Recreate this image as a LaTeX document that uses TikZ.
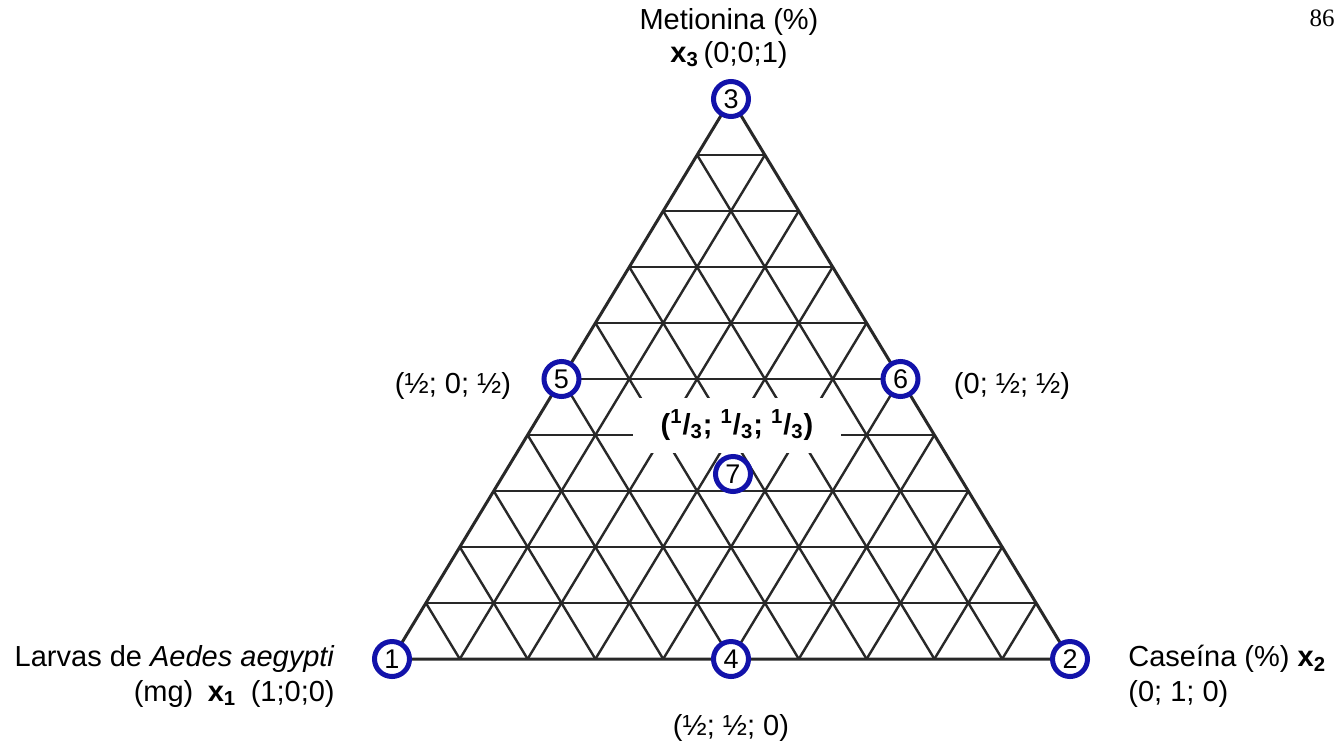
\documentclass[tikz,border=0pt]{standalone}
\usepackage{fontspec}
\setmainfont{Liberation Sans}
\newfontfamily\pagenumfont{Liberation Serif}
\definecolor{vblue}{RGB}{18,18,170}
\definecolor{gridgray}{RGB}{40,40,40}
\begin{document}
\begin{tikzpicture}[x=0.5pt,y=-0.5pt,
  gridline/.style={draw=gridgray, line width=1.2pt},
  edgeline/.style={draw=gridgray, line width=1.5pt},
  vtx/.style={circle, draw=vblue, line width=2.5pt, fill=white, minimum size=17.5pt,
    inner sep=0pt, font=\fontsize{13.5}{13.5}\selectfont},
  lbl/.style={font=\fontsize{14.5}{17.5}\selectfont, inner sep=0pt}]
\useasboundingbox (0,0) rectangle (1344,751);
\fill[white] (0,0) rectangle (1344,751);
\coordinate (v1) at (392,659);
\coordinate (v2) at (1070,659);
\coordinate (v3) at (731,99);
% grid
\foreach \k in {1,...,9}{
  \pgfmathsetmacro\a{\k/10}
  \pgfmathsetmacro\b{1-\k/10}
  \draw[gridline] (barycentric cs:v1=\b,v3=\a) -- (barycentric cs:v2=\b,v3=\a);
  \draw[gridline] (barycentric cs:v1=\a,v2=\b) -- (barycentric cs:v1=\a,v3=\b);
  \draw[gridline] (barycentric cs:v2=\a,v1=\b) -- (barycentric cs:v2=\a,v3=\b);
}
\draw[edgeline] (v1) -- (v2) -- (v3) -- cycle;
% centre label box
\node[lbl, fill=white, minimum width=104pt, minimum height=27.5pt,
  font=\fontsize{14.5}{17.5}\selectfont\bfseries] (lc) at (737,425)
  {(\textsuperscript{1}/\textsubscript{3}; \textsuperscript{1}/\textsubscript{3}; \textsuperscript{1}/\textsubscript{3})};
% vertex circles
\node[vtx] (n1) at (v1) {1};
\node[vtx] (n2) at (v2) {2};
\node[vtx] (n3) at (v3) {3};
\node[vtx] (n4) at (731,659) {4};
\node[vtx] (n5) at (561.5,379) {5};
\node[vtx] (n6) at (900.5,379) {6};
\node[vtx] (n7) at (733,474) {7};
% labels
\node[lbl] (t3a) at (729,22) {Metionina (\%)};
\node[lbl] (t3b) at (729,55) {\textbf{x}\textsubscript{\textbf{3}}\,(0;0;1)};
\node[lbl] (t5) at (453,386) {(½; 0; ½)};
\node[lbl] (t6) at (1012,386) {(0; ½; ½)};
\node[lbl, anchor=east] (t1a) at (335,659) {Larvas de \textit{Aedes aegypti}};
\node[lbl, anchor=east] (t1b) at (335,694) {(mg)\enspace\textbf{x}\textsubscript{\textbf{1}}\enspace(1;0;0)};
\node[lbl, anchor=west] (t2a) at (1128,659) {Caseína (\%) \textbf{x}\textsubscript{\textbf{2}}};
\node[lbl, anchor=west] (t2b) at (1128,694) {(0; 1; 0)};
\node[lbl] (t4) at (731,728) {(½; ½; 0)};
\node[inner sep=0pt, font=\pagenumfont\fontsize{12.5}{12.5}\selectfont] (pg) at (1322,18) {86};
\end{tikzpicture}
\end{document}
